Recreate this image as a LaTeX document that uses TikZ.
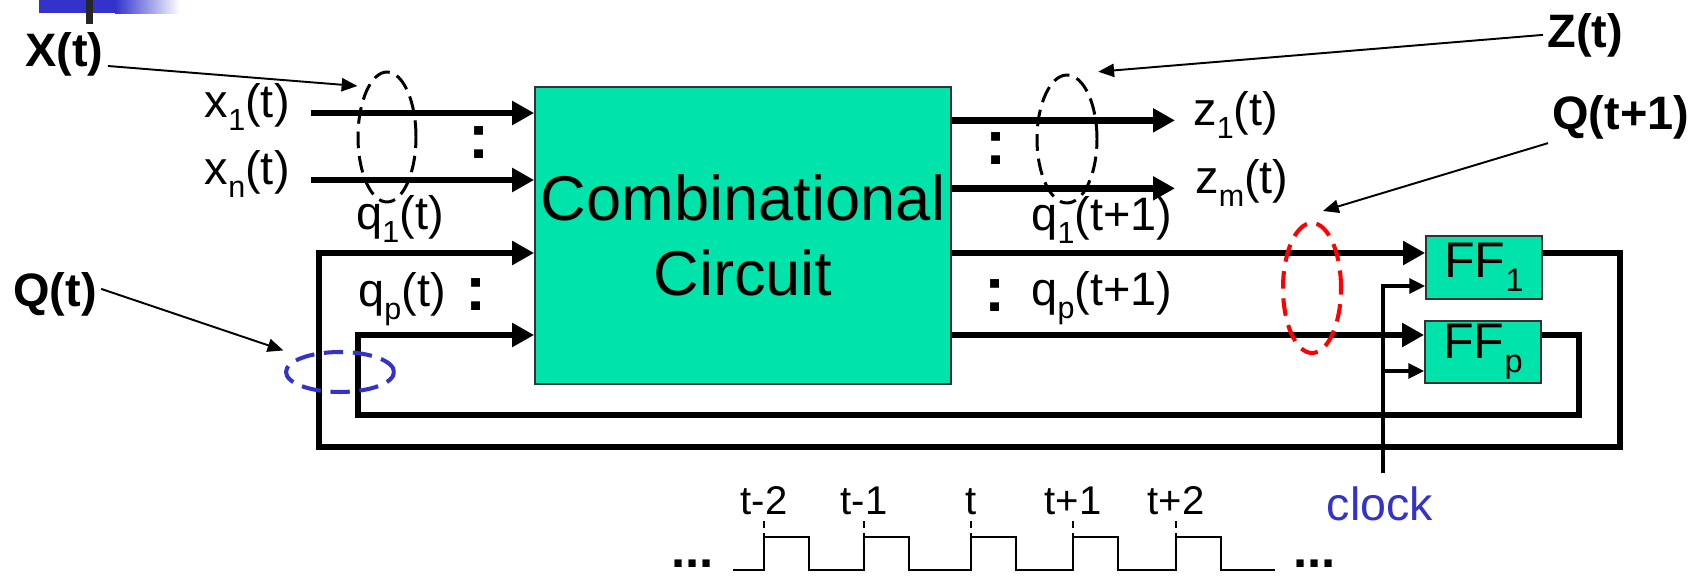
\documentclass[tikz,border=0pt]{standalone}
\usepackage{fontspec}
\setmainfont{Liberation Sans}
\usepackage{graphicx}
\usepackage{xcolor}
\usepackage{tikz}
\usetikzlibrary{arrows.meta,shapes.geometric,positioning}

\definecolor{combgreen}{RGB}{0,227,170}
\definecolor{slideblue}{RGB}{51,51,204}

\newcommand{\lowsub}[1]{\raisebox{-0.28em}{\scalebox{0.65}{#1}}}

\begin{document}
\begin{tikzpicture}[x=0.02cm, y=-0.02cm,
  sig/.style={line width=3.8pt, line join=miter, -{Triangle[length=12.5pt,width=13pt]}},
  note/.style={line width=1.1pt, -{Triangle[length=9pt,width=7.5pt]}},
  clk/.style={line width=1.9pt, -{Triangle[length=9pt,width=8.5pt]}},
  block/.style={draw=black!80, line width=1pt, fill=combgreen, inner sep=0pt},
  lbl/.style={inner sep=0pt, font=\fontsize{26.7}{32}\selectfont},
  bigname/.style={inner sep=2.3pt, font=\fontsize{26.7}{32}\selectfont\bfseries},
  dotsym/.style={inner sep=0pt, font=\fontsize{36}{40}\selectfont\bfseries},
  bundle/.style={draw, ellipse, inner sep=0pt, line width=1.7pt, dash pattern=on 9.5pt off 4.5pt},
  tlbl/.style={inner sep=0pt, font=\fontsize{22.8}{27}\selectfont}]
  \useasboundingbox (0,0) rectangle (1704,578);
  % slide header
  \fill[slideblue] (39,0) rectangle (115,13);
  \shade[left color=slideblue, right color=white] (115,0) rectangle (180,13);
  \fill[black!85] (86,0) rectangle (93,24);
  % blocks
  \node[block, minimum width=8.32cm, minimum height=5.94cm, align=center,
        font=\fontsize{36}{42.7}\selectfont] (comb) at (743,235.5) {Combinational\\Circuit};
  \node[block, minimum width=2.32cm, minimum height=1.26cm,
        font=\fontsize{28.5}{32}\selectfont] (ff1) at (1484,267.5) {FF\lowsub{1}};
  \node[block, minimum width=2.32cm, minimum height=1.24cm,
        font=\fontsize{28.5}{32}\selectfont] (ffp) at (1483,352) {FF\lowsub{p}};
  % signal names
  \node[lbl, anchor=mid east] (x1l) at (290,113) {x\lowsub{1}(t)};
  \node[lbl, anchor=mid east] (xnl) at (290,180) {x\lowsub{n}(t)};
  \node[lbl, anchor=base] (q1l) at (400,229) {q\lowsub{1}(t)};
  \node[lbl, anchor=base] (qpl) at (402,306) {q\lowsub{p}(t)};
  \node[lbl, anchor=base west] (z1l) at (1193,125) {z\lowsub{1}(t)};
  \node[lbl, anchor=base west] (zml) at (1195,193) {z\lowsub{m}(t)};
  \node[lbl, anchor=base] (q1ol) at (1102,230) {q\lowsub{1}(t+1)};
  \node[lbl, anchor=base] (qpol) at (1102,305) {q\lowsub{p}(t+1)};
  \node[dotsym, anchor=base] (dxa) at (479,158) {:};
  \node[dotsym, anchor=base] (dqa) at (476,310) {:};
  \node[dotsym, anchor=base] (dza) at (996,164) {:};
  \node[dotsym, anchor=base] (dqb) at (995,311) {:};
  % pins
  \coordinate (ff1in) at ([yshift=0.29cm]ff1.west);
  \coordinate (ffpin) at ([yshift=0.34cm]ffp.west);
  \coordinate (ff1clk) at ([yshift=-0.37cm]ff1.west);
  \coordinate (ffpclk) at ([yshift=-0.38cm]ffp.west);
  \coordinate (outer) at (319,447);
  \coordinate (inner) at (358,415);
  \coordinate (clkfoot) at (1383,473);
  % inputs and outputs
  \draw[sig] ([xshift=0.42cm]x1l.mid east) -- (comb.west |- x1l.mid);
  \draw[sig] ([xshift=0.42cm]xnl.mid east) -- (comb.west |- xnl.mid);
  \draw[sig] (comb.east |- z1l.mid) -- ([xshift=-0.36cm]z1l.mid west);
  \draw[sig] (comb.east |- zml.mid) -- ([xshift=-0.4cm]zml.mid west);
  \draw[sig] (comb.east |- ff1in) -- (ff1in);
  \draw[sig] (comb.east |- ffpin) -- (ffpin);
  % feedback loops
  \draw[sig] ([yshift=0.29cm]ff1.east) -- ++(77,0) |- (outer) |- (comb.west |- ff1in);
  \draw[sig] ([yshift=0.34cm]ffp.east) -- ++(37,0) |- (inner) |- (comb.west |- ffpin);
  % clock
  \node[tlbl, anchor=base, text=slideblue, font=\fontsize{26.5}{30}\selectfont] (clkl) at (1380,520) {clock};
  \draw[clk] (clkfoot) |- (ff1clk);
  \draw[clk] (clkfoot |- ffpclk) -- (ffpclk);
  % groups
  \node[bundle, minimum width=1.16cm, minimum height=2.6cm] (xell) at (387,137) {};
  \node[bundle, minimum width=1.2cm, minimum height=2.56cm] (zell) at (1067,139) {};
  \node[bundle, draw=slideblue, line width=2.3pt, dash pattern=on 11pt off 5.5pt,
        minimum width=2.16cm, minimum height=0.8cm] (qell) at (340,372) {};
  \node[bundle, draw=red, line width=2.3pt, dash pattern=on 10pt off 5.5pt,
        minimum width=1.16cm, minimum height=2.6cm] (q1ell) at (1312,288) {};
  \node[bigname, anchor=base west] (xt) at (21,66) {X(t)};
  \node[bigname, anchor=base west] (qt) at (9,306) {Q(t)};
  \node[bigname, anchor=base west] (zt) at (1543,47) {Z(t)};
  \node[bigname, anchor=base west] (qt1) at (1548,129) {Q(t+1)};
  \draw[note] (xt.base east) -- ([shift={(-8,-4)}]xell.north west);
  \draw[note] ([yshift=0.1cm]qt.east) -- ([shift={(-17,-6)}]qell.north west);
  \draw[note] (zt.west) -- ([shift={(9,-21)}]zell.north east);
  \draw[note] (qt1.south west) -- ([shift={(11,-10)}]q1ell.north);
  % clock waveform
  \draw[line width=1.5pt] (733,570)
    \foreach \x in {764,864,971,1073,1176} { -- (\x,570) -- (\x,537) -- (\x+45,537) -- (\x+45,570) }
    -- (1275,570);
  \foreach \x/\t in {764/t-2, 864/t-1, 971/t, 1073/t+1, 1176/t+2} {
    \node[tlbl, anchor=base] (c\x) at (\x,514) {\t};
    \draw[line width=1pt, dash pattern=on 4pt off 3pt] (\x,521) -- (\x,537);
  }
  \node[dotsym, anchor=base west, font=\fontsize{29}{32}\selectfont\bfseries] (dl) at (671,567) {...};
  \node[dotsym, anchor=base west, font=\fontsize{29}{32}\selectfont\bfseries] (dr) at (1293,567) {...};
\end{tikzpicture}
\end{document}
